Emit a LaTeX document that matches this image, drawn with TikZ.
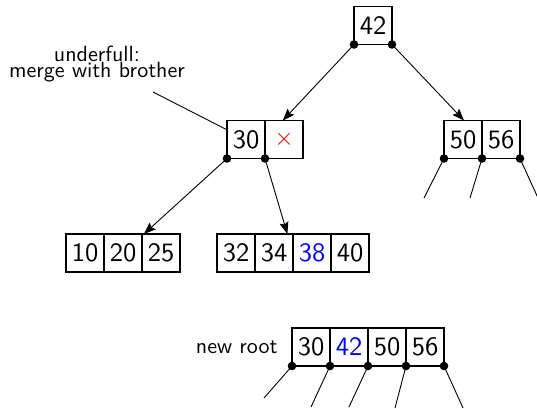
\documentclass[tikz,border=0pt]{standalone}
\usepackage{fontspec}
\newfontfamily\ssten{lmsans10-regular}[Extension=.otf]
\usetikzlibrary{arrows.meta,fit}
\begin{document}
\begin{tikzpicture}[x=1pt,y=-1pt,
  cell/.style={draw,line width=1.8pt,minimum width=38pt,minimum height=38pt,
    inner sep=0pt,outer sep=0pt,font=\ssten\fontsize{26.5}{30}\selectfont},
  grp/.style={inner sep=0pt,outer sep=0pt},
  lbl/.style={font=\ssten\fontsize{22}{16.5}\selectfont},
  conn/.style={line width=0.9pt},
  arr/.style={conn,-{Stealth[length=12pt,width=9pt,inset=2pt]}},
  dot/.style={fill=black}]
\useasboundingbox (0,0) rectangle (537,408);
% root
\node[cell] (r42) at (373,25.5) {42};
% level 2
\node[cell] (c30) at (246,139.5) {30};
\node[cell] (cx) at (284,139.5) {\textcolor{red}{$\times$}};
\node[grp,fit=(c30)(cx)] (g30) {};
\node[cell] (c50) at (463,139.5) {50};
\node[cell] (c56) at (501,139.5) {56};
\node[grp,fit=(c50)(c56)] (g50) {};
% level 3
\node[cell] (c10) at (85,253) {10};
\node[cell] (c20) at (123,253) {20};
\node[cell] (c25) at (161,253) {25};
\node[grp,fit=(c10)(c25)] (g10) {};
\node[cell] (c32) at (236,253) {32};
\node[cell] (c34) at (274,253) {34};
\node[cell] (c38) at (312,253) {\textcolor{blue}{38}};
\node[cell] (c40) at (350,253) {40};
\node[grp,fit=(c32)(c40)] (g32) {};
% new root
\node[cell] (n30) at (311,347) {30};
\node[cell] (n42) at (349,347) {\textcolor{blue}{42}};
\node[cell] (n50) at (387,347) {50};
\node[cell] (n56) at (425,347) {56};
\node[lbl,anchor=base east] (newroot) at (281,353.5) {new root};
% label
\node[lbl,align=center] (under) at (97,64) {underfull:\\merge with brother};
\coordinate (underend) at (153,92);
\draw[conn] (underend) -- (c30);
% dots coordinates
\coordinate (rA) at (r42.south west);
\coordinate (rB) at (r42.south east);
\coordinate (tA) at (c30.south west);
\coordinate (tB) at (c30.south east);
\coordinate (fA) at (c50.south west);
\coordinate (fB) at (c50.south east);
\coordinate (fC) at (c56.south east);
\coordinate (nA) at (n30.south west);
\coordinate (nB) at (n30.south east);
\coordinate (nC) at (n42.south east);
\coordinate (nD) at (n50.south east);
\coordinate (nE) at (n56.south east);
% free ends
\coordinate (fAe) at (424,198);
\coordinate (fBe) at (470,198);
\coordinate (fCe) at (538,198);
\coordinate (nAe) at (264,398);
\coordinate (nBe) at (311,407);
\coordinate (nCe) at (349,407);
\coordinate (nDe) at (395,408);
\coordinate (nEe) at (463,408);
% arrows
\draw[arr] (rA) -- (g30);
\draw[arr] (rB) -- (g50);
\draw[arr] (tA) -- (g10);
\draw[arr] (tB) -- (g32);
% dangling
\foreach \p in {fA,fB,fC,nA,nB,nC,nD,nE}
  \draw[conn] (\p) -- (\p e);
% dots
\foreach \p in {rA,rB,tA,tB,fA,fB,fC,nA,nB,nC,nD,nE}
  \fill[dot] (\p) circle (4.3pt);
\end{tikzpicture}
\end{document}
